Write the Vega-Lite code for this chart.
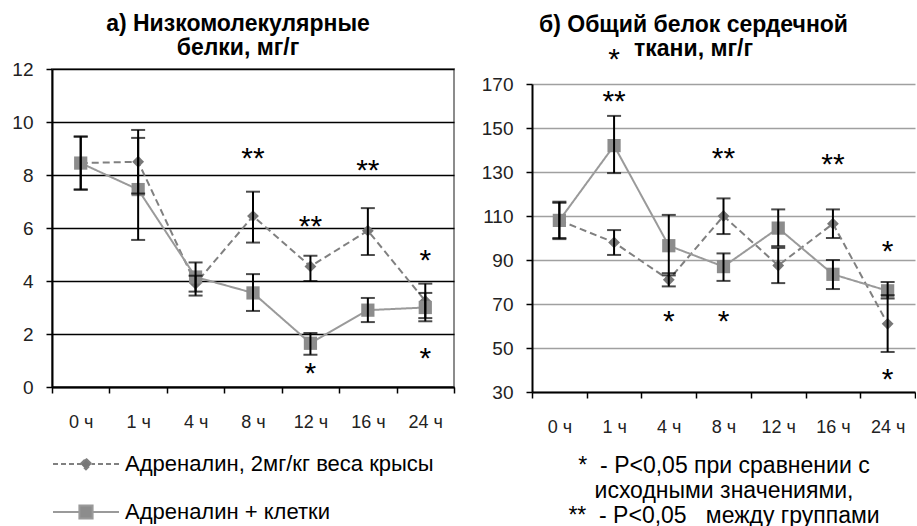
{
  "$schema": "https://vega.github.io/schema/vega-lite/v6.json",
  "background": "white",
  "padding": {"left": 10, "top": 12, "right": 0, "bottom": 0},
  "columns": 2,
  "align": "none",
  "spacing": 25,
  "config": {
    "font": "Liberation Sans",
    "view": {"stroke": "#8c8c8c", "strokeWidth": 2},
    "title": {"font": "Liberation Sans", "fontSize": 23, "fontWeight": "bold", "color": "#000", "lineHeight": 24},
    "axis": {
      "labelFont": "Liberation Sans",
      "labelColor": "#222",
      "domainColor": "#000",
      "domainWidth": 2,
      "tickColor": "#000",
      "tickWidth": 1.5,
      "tickSize": 6
    },
    "axisX": {"labelFontSize": 18, "labelPadding": 20, "labelAngle": 0, "tickBand": "extent", "grid": false},
    "axisY": {"labelFontSize": 19, "labelPadding": 13, "grid": true, "gridWidth": 1.4}
  },
  "datasets": {
    "lmw": [
      {"time": "0 ч", "group": "Адреналин, 2мг/кг веса крысы", "value": 8.45, "lo": 7.45, "hi": 9.45},
      {"time": "1 ч", "group": "Адреналин, 2мг/кг веса крысы", "value": 8.5, "lo": 7.3, "hi": 9.7},
      {"time": "4 ч", "group": "Адреналин, 2мг/кг веса крысы", "value": 3.9, "lo": 3.6, "hi": 4.2},
      {"time": "8 ч", "group": "Адреналин, 2мг/кг веса крысы", "value": 6.45, "lo": 5.45, "hi": 7.37},
      {"time": "12 ч", "group": "Адреналин, 2мг/кг веса крысы", "value": 4.55, "lo": 4.0, "hi": 4.95},
      {"time": "16 ч", "group": "Адреналин, 2мг/кг веса крысы", "value": 5.9, "lo": 4.98, "hi": 6.75},
      {"time": "24 ч", "group": "Адреналин, 2мг/кг веса крысы", "value": 3.25, "lo": 2.6, "hi": 3.9},
      {"time": "0 ч", "group": "Адреналин + клетки", "value": 8.45, "lo": 7.45, "hi": 9.45},
      {"time": "1 ч", "group": "Адреналин + клетки", "value": 7.45, "lo": 5.55, "hi": 9.4},
      {"time": "4 ч", "group": "Адреналин + клетки", "value": 4.15, "lo": 3.45, "hi": 4.7},
      {"time": "8 ч", "group": "Адреналин + клетки", "value": 3.55, "lo": 2.87, "hi": 4.26},
      {"time": "12 ч", "group": "Адреналин + клетки", "value": 1.65, "lo": 1.22, "hi": 2.04},
      {"time": "16 ч", "group": "Адреналин + клетки", "value": 2.9, "lo": 2.45, "hi": 3.36},
      {"time": "24 ч", "group": "Адреналин + клетки", "value": 3.0, "lo": 2.48, "hi": 3.55}
    ],
    "lmwStars": [
      {"time": "8 ч", "y": 8.6, "mark": "**"},
      {"time": "12 ч", "y": 6.05, "mark": "**"},
      {"time": "16 ч", "y": 8.15, "mark": "**"},
      {"time": "24 ч", "y": 4.75, "mark": "*"},
      {"time": "12 ч", "y": 0.5, "mark": "*"},
      {"time": "24 ч", "y": 1.05, "mark": "*"}
    ],
    "total": [
      {"time": "0 ч", "group": "Адреналин, 2мг/кг веса крысы", "value": 108, "lo": 100, "hi": 116},
      {"time": "1 ч", "group": "Адреналин, 2мг/кг веса крысы", "value": 98, "lo": 92.3, "hi": 103.6},
      {"time": "4 ч", "group": "Адреналин, 2мг/кг веса крысы", "value": 81, "lo": 78, "hi": 84},
      {"time": "8 ч", "group": "Адреналин, 2мг/кг веса крысы", "value": 110, "lo": 101.8, "hi": 118},
      {"time": "12 ч", "group": "Адреналин, 2мг/кг веса крысы", "value": 87.5, "lo": 79.5, "hi": 95.5},
      {"time": "16 ч", "group": "Адреналин, 2мг/кг веса крысы", "value": 106.5, "lo": 100, "hi": 113},
      {"time": "24 ч", "group": "Адреналин, 2мг/кг веса крысы", "value": 61, "lo": 48.2, "hi": 74},
      {"time": "0 ч", "group": "Адреналин + клетки", "value": 108, "lo": 99.5, "hi": 116.5},
      {"time": "1 ч", "group": "Адреналин + клетки", "value": 142, "lo": 129.5, "hi": 155.5},
      {"time": "4 ч", "group": "Адреналин + клетки", "value": 96.5, "lo": 83, "hi": 110.5},
      {"time": "8 ч", "group": "Адреналин + клетки", "value": 87, "lo": 80.5, "hi": 93},
      {"time": "12 ч", "group": "Адреналин + клетки", "value": 104.5, "lo": 96.3, "hi": 113},
      {"time": "16 ч", "group": "Адреналин + клетки", "value": 83.5, "lo": 76.8, "hi": 90},
      {"time": "24 ч", "group": "Адреналин + клетки", "value": 76, "lo": 72.5, "hi": 80}
    ],
    "totalStars": [
      {"time": "1 ч", "y": 181, "mark": "*"},
      {"time": "1 ч", "y": 162, "mark": "**"},
      {"time": "8 ч", "y": 136, "mark": "**"},
      {"time": "16 ч", "y": 133, "mark": "**"},
      {"time": "24 ч", "y": 93.5, "mark": "*"},
      {"time": "4 ч", "y": 62, "mark": "*"},
      {"time": "8 ч", "y": 62, "mark": "*"},
      {"time": "24 ч", "y": 35.5, "mark": "*"}
    ]
  },
  "resolve": {"scale": {"color": "independent", "strokeDash": "independent"}, "legend": {"color": "independent"}},
  "concat": [
    {
      "title": {"text": ["а)  Низкомолекулярные", "белки,  мг/г"], "dx": -15, "offset": 0},
      "width": 402,
      "height": 318,
      "layer": [
        {
          "data": {"name": "lmw"},
          "mark": {"type": "line", "strokeWidth": 2},
          "encoding": {
            "x": {"field": "time", "type": "ordinal", "sort": ["0 ч", "1 ч", "4 ч", "8 ч", "12 ч", "16 ч", "24 ч"], "scale": {"type": "band", "paddingInner": 0, "paddingOuter": 0}, "bandPosition": 0.5, "axis": {"title": null}},
            "y": {"field": "value", "type": "quantitative", "scale": {"domain": [0, 12], "nice": false}, "axis": {"title": null, "values": [0, 2, 4, 6, 8, 10, 12], "gridColor": "#000"}},
            "color": {
              "field": "group", "type": "nominal",
              "scale": {"domain": ["Адреналин, 2мг/кг веса крысы", "Адреналин + клетки"], "range": ["#808080", "#9a9a9a"]},
              "legend": {
                "title": null,
                "orient": "bottom",
                "direction": "vertical",
                "offset": 12,
                "labelFont": "Liberation Sans",
                "labelFontSize": 22,
                "labelColor": "#000",
                "labelLimit": 0,
                "symbolSize": 1600,
                "symbolOffset": 13,
                "labelOffset": 18,
                "rowPadding": 16,
                "encode": {
                  "symbols": {
                    "update": {
                      "shape": [
                        {"test": "datum.value === 'Адреналин + клетки'", "value": "M-1.65,0H-0.33M0.33,0H1.65M-0.33,-0.33H0.33V0.33H-0.33Z"},
                        {"value": "M-1.65,0H-1.4M-1.25,0H-1M-0.85,0H-0.6M-0.45,0H-0.27M0.27,0H0.45M0.6,0H0.85M1,0H1.25M1.4,0H1.65M0,-0.27L0.27,0L0,0.27L-0.27,0Z"}
                      ],
                      "fill": [
                        {"test": "datum.value === 'Адреналин + клетки'", "value": "#8c8c8c"},
                        {"value": "#777777"}
                      ],
                      "stroke": [
                        {"test": "datum.value === 'Адреналин + клетки'", "value": "#9a9a9a"},
                        {"value": "#808080"}
                      ],
                      "strokeWidth": {"value": 2},
                      "strokeDash": {"value": []},
                      "opacity": {"value": 1}
                    }
                  }
                }
              }
            },
            "strokeDash": {"field": "group", "type": "nominal", "scale": {"domain": ["Адреналин, 2мг/кг веса крысы", "Адреналин + клетки"], "range": [[7, 4], [1, 0]]}, "legend": null}
          }
        },
        {
          "data": {"name": "lmw"},
          "transform": [{"filter": "datum.group === 'Адреналин, 2мг/кг веса крысы'"}],
          "mark": {"type": "point", "shape": "diamond", "size": 140, "filled": true, "opacity": 1, "color": "#777777"},
          "encoding": {
            "x": {"field": "time", "type": "ordinal", "sort": ["0 ч", "1 ч", "4 ч", "8 ч", "12 ч", "16 ч", "24 ч"], "bandPosition": 0.5},
            "y": {"field": "value", "type": "quantitative"}
          }
        },
        {
          "data": {"name": "lmw"},
          "transform": [{"filter": "datum.group === 'Адреналин + клетки'"}],
          "mark": {"type": "point", "shape": "square", "size": 175, "filled": true, "opacity": 1, "color": "#8c8c8c"},
          "encoding": {
            "x": {"field": "time", "type": "ordinal", "sort": ["0 ч", "1 ч", "4 ч", "8 ч", "12 ч", "16 ч", "24 ч"], "bandPosition": 0.5},
            "y": {"field": "value", "type": "quantitative"}
          }
        },
        {
          "data": {"name": "lmw"},
          "mark": {"type": "errorbar", "ticks": {"size": 14, "thickness": 2, "color": "#000"}, "rule": {"strokeWidth": 2, "color": "#000"}},
          "encoding": {
            "x": {"field": "time", "type": "ordinal", "sort": ["0 ч", "1 ч", "4 ч", "8 ч", "12 ч", "16 ч", "24 ч"], "bandPosition": 0.5},
            "y": {"field": "lo", "type": "quantitative"},
            "y2": {"field": "hi"}
          }
        },
        {
          "data": {"name": "lmwStars"},
          "mark": {"type": "text", "fontSize": 30, "font": "Liberation Sans", "color": "#000", "baseline": "middle", "align": "center"},
          "encoding": {
            "x": {"field": "time", "type": "ordinal", "sort": ["0 ч", "1 ч", "4 ч", "8 ч", "12 ч", "16 ч", "24 ч"], "bandPosition": 0.5},
            "y": {"field": "y", "type": "quantitative"},
            "text": {"field": "mark"}
          }
        }
      ]
    },
    {
      "title": {"text": ["б)  Общий белок сердечной", "ткани, мг/г"], "dx": -30, "offset": -16},
      "width": 383,
      "height": 323,
      "view": {"stroke": null},
      "layer": [
        {
          "data": {"name": "total"},
          "mark": {"type": "line", "strokeWidth": 2},
          "encoding": {
            "x": {"field": "time", "type": "ordinal", "sort": ["0 ч", "1 ч", "4 ч", "8 ч", "12 ч", "16 ч", "24 ч"], "scale": {"type": "band", "paddingInner": 0, "paddingOuter": 0}, "bandPosition": 0.5,
              "axis": {"title": ["*\u00a0\u00a0- P<0,05 при сравнении с", "исходными значениями,", "**\u00a0\u00a0- P<0,05\u00a0\u00a0\u00a0между группами"], "titleFont": "Liberation Sans", "titleFontSize": 23, "titleFontWeight": "normal", "titleColor": "#000", "titleLineHeight": 25, "titlePadding": 18}},
            "y": {"field": "value", "type": "quantitative", "scale": {"domain": [30, 170], "nice": false, "range": [323, 15]}, "axis": {"title": null, "values": [30, 50, 70, 90, 110, 130, 150, 170], "gridColor": "#a0a0a0"}},
            "color": {"field": "group", "type": "nominal", "scale": {"domain": ["Адреналин, 2мг/кг веса крысы", "Адреналин + клетки"], "range": ["#808080", "#9a9a9a"]}, "legend": null},
            "strokeDash": {"field": "group", "type": "nominal", "scale": {"domain": ["Адреналин, 2мг/кг веса крысы", "Адреналин + клетки"], "range": [[7, 4], [1, 0]]}, "legend": null}
          }
        },
        {
          "data": {"name": "total"},
          "transform": [{"filter": "datum.group === 'Адреналин, 2мг/кг веса крысы'"}],
          "mark": {"type": "point", "shape": "diamond", "size": 140, "filled": true, "opacity": 1, "color": "#777777"},
          "encoding": {
            "x": {"field": "time", "type": "ordinal", "sort": ["0 ч", "1 ч", "4 ч", "8 ч", "12 ч", "16 ч", "24 ч"], "bandPosition": 0.5},
            "y": {"field": "value", "type": "quantitative"}
          }
        },
        {
          "data": {"name": "total"},
          "transform": [{"filter": "datum.group === 'Адреналин + клетки'"}],
          "mark": {"type": "point", "shape": "square", "size": 175, "filled": true, "opacity": 1, "color": "#8c8c8c"},
          "encoding": {
            "x": {"field": "time", "type": "ordinal", "sort": ["0 ч", "1 ч", "4 ч", "8 ч", "12 ч", "16 ч", "24 ч"], "bandPosition": 0.5},
            "y": {"field": "value", "type": "quantitative"}
          }
        },
        {
          "data": {"name": "total"},
          "mark": {"type": "errorbar", "ticks": {"size": 14, "thickness": 2, "color": "#000"}, "rule": {"strokeWidth": 2, "color": "#000"}},
          "encoding": {
            "x": {"field": "time", "type": "ordinal", "sort": ["0 ч", "1 ч", "4 ч", "8 ч", "12 ч", "16 ч", "24 ч"], "bandPosition": 0.5},
            "y": {"field": "lo", "type": "quantitative"},
            "y2": {"field": "hi"}
          }
        },
        {
          "data": {"name": "totalStars"},
          "mark": {"type": "text", "fontSize": 30, "font": "Liberation Sans", "color": "#000", "baseline": "middle", "align": "center", "clip": false},
          "encoding": {
            "x": {"field": "time", "type": "ordinal", "sort": ["0 ч", "1 ч", "4 ч", "8 ч", "12 ч", "16 ч", "24 ч"], "bandPosition": 0.5},
            "y": {"field": "y", "type": "quantitative"},
            "text": {"field": "mark"}
          }
        }
      ]
    }
  ]
}
